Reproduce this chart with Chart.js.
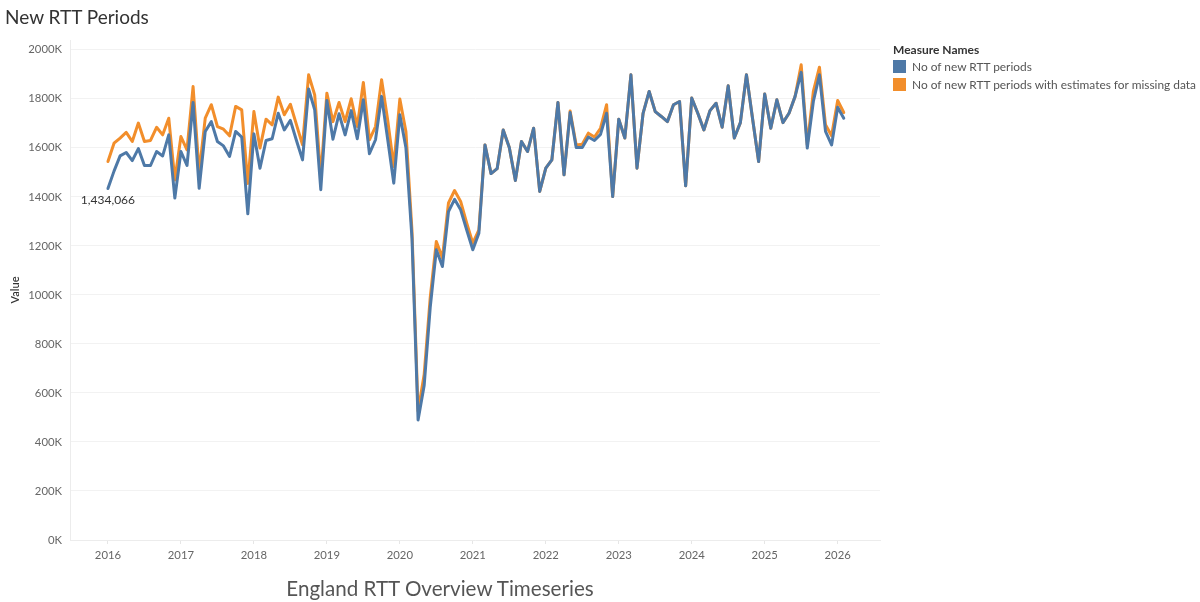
<!DOCTYPE html>
<html>
<head>
<meta charset="utf-8">
<script src="https://cdn.jsdelivr.net/npm/chart.js@4.4.0/dist/chart.umd.min.js"></script>
<style>
html,body{margin:0;padding:0;background:#fff;}
#wrap{position:relative;width:1200px;height:602px;font-family:Lato,"Open Sans",sans-serif;overflow:hidden;}
#c{position:absolute;left:0;top:0;}
.title{position:absolute;left:5px;top:5px;font-size:19px;color:#333;white-space:nowrap;}
.sub{position:absolute;left:0;width:880px;text-align:center;top:576px;font-size:20.6px;color:#555;white-space:nowrap;}
.legend{position:absolute;left:893px;top:42px;font-size:11.9px;color:#555;white-space:nowrap;}
.legend .lt{font-weight:700;color:#333;font-size:12px;margin-bottom:2px;}
.legend .row{position:relative;height:18px;line-height:15px;padding-left:19px;}
.legend .sw{position:absolute;left:0;top:1px;width:13px;height:13px;}
</style>
</head>
<body>
<div id="wrap">
<canvas id="c" width="1200" height="602"></canvas>
<div class="title">New RTT Periods</div>
<div class="sub">England RTT Overview Timeseries</div>
<div class="legend" id="legend"></div>
</div>
<script>
// ---- data (values in thousands) ----
const startYear = 2016;
const seriesNames = ['No of new RTT periods', 'No of new RTT periods with estimates for missing data'];
const seriesColors = ['#4e79a7', '#f28e2b'];

const newRttPeriods = [
1434.066,1505,1567,1581,1548,1597,1528,1528,1585,1567,1653,1395,
1585,1528,1785,1435,1667,1707,1626,1608,1565,1667,1644,1331,
1657,1517,1630,1637,1741,1673,1712,1630,1551,1840,1755,1429,
1793,1635,1739,1653,1752,1637,1796,1576,1633,1810,1635,1456,
1735,1600,1230,490,630,950,1184,1116,1340,1390,1347,1265,
1184,1252,1612,1495,1515,1673,1601,1467,1626,1585,1680,1422,
1517,1551,1785,1490,1744,1601,1601,1644,1630,1655,1741,1401,
1717,1640,1898,1517,1741,1830,1748,1728,1707,1776,1789,1445,
1803,1741,1673,1752,1782,1684,1853,1640,1703,1898,1720,1544,
1820,1680,1796,1703,1741,1810,1908,1599,1789,1898,1667,1612,
1766,1721];

const newRttPeriodsEst = [
1544,1619,1640,1663,1626,1701,1626,1630,1684,1653,1721,1469,
1646,1592,1850,1500,1721,1776,1687,1676,1649,1769,1755,1455,
1748,1599,1717,1694,1807,1735,1778,1695,1612,1898,1816,1480,
1823,1707,1785,1707,1800,1687,1867,1633,1687,1878,1714,1524,
1799,1667,1260,525,675,990,1218,1151,1375,1426,1381,1293,
1211,1265,1612,1495,1515,1673,1601,1467,1626,1585,1680,1422,
1517,1551,1785,1490,1750,1612,1615,1660,1644,1680,1776,1401,
1717,1640,1898,1517,1741,1830,1748,1728,1707,1776,1789,1445,
1803,1741,1673,1752,1782,1684,1853,1640,1703,1898,1720,1544,
1820,1680,1796,1703,1741,1810,1939,1612,1830,1929,1694,1649,
1793,1744];

const yearTicks = [2016,2017,2018,2019,2020,2021,2022,2023,2024,2025,2026];
const valueTicks = [0,200,400,600,800,1000,1200,1400,1600,1800,2000];

// month categories (Jan 2016 onward) -> position in fractional years
const months = newRttPeriods.map((_, i) => (startYear + Math.floor(i / 12)) + '-' + String(i % 12 + 1).padStart(2, '0'));
const monthPos = m => { const [y, mo] = m.split('-').map(Number); return y + (mo - 1) / 12; };
const toPoints = arr => arr.map((v, i) => ({ x: monthPos(months[i]), y: v }));

// legend
const lg = document.getElementById('legend');
lg.innerHTML = '<div class="lt">Measure Names</div>' + seriesNames.map((n, i) =>
  '<div class="row"><span class="sw" style="background:' + seriesColors[i] + '"></span>' + n + '</div>').join('');

const firstLabel = {
  id: 'firstLabel',
  afterDatasetsDraw(chart) {
    const meta = chart.getDatasetMeta(0);
    const pt = meta.data[0];
    const ctx = chart.ctx;
    ctx.save();
    ctx.font = '12px Lato, "Open Sans", sans-serif';
    ctx.fillStyle = '#333';
    ctx.textAlign = 'center';
    ctx.textBaseline = 'middle';
    ctx.fillText(Math.round(newRttPeriods[0] * 1000).toLocaleString('en-GB'), pt.x, pt.y + 12);
    ctx.restore();
  }
};

const tickFont = { family: 'Lato, "Open Sans", sans-serif', size: 11.3 };

new Chart(document.getElementById('c'), {
  type: 'line',
  data: {
    datasets: [
      { label: seriesNames[0], data: toPoints(newRttPeriods), borderColor: seriesColors[0], backgroundColor: seriesColors[0],
        borderWidth: 3, pointRadius: 0, tension: 0, borderJoinStyle: 'round', borderCapStyle: 'round' },
      { label: seriesNames[1], data: toPoints(newRttPeriodsEst), borderColor: seriesColors[1], backgroundColor: seriesColors[1],
        borderWidth: 3, pointRadius: 0, tension: 0, borderJoinStyle: 'round', borderCapStyle: 'round' }
    ]
  },
  options: {
    responsive: false,
    animation: false,
    devicePixelRatio: 1,
    layout: { padding: { left: 0, right: 320, top: 40, bottom: 0 } },
    plugins: { legend: { display: false }, tooltip: { enabled: false }, title: { display: false } },
    scales: {
      x: {
        type: 'linear', min: 2015.48, max: 2026.58,
        afterBuildTicks: s => { s.ticks = yearTicks.map(v => ({ value: v })); },
        afterFit: s => { s.height = 62; },
        ticks: { callback: v => String(v), color: '#666', font: tickFont, padding: 5, maxRotation: 0, autoSkip: false },
        grid: { drawOnChartArea: false, drawTicks: true, tickLength: 4, color: '#e6e6e6' },
        border: { display: true, color: '#ececec' }
      },
      y: {
        min: 0, max: 2040,
        afterBuildTicks: s => { s.ticks = valueTicks.map(v => ({ value: v })); },
        afterFit: s => { s.width = 70; },
        ticks: { callback: v => v + 'K', color: '#666', font: tickFont, padding: 8 },
        grid: { color: '#f2f2f2', drawTicks: false },
        border: { display: true, color: '#ececec' },
        title: { display: true, text: 'Value', color: '#333', font: { family: 'Lato, "Open Sans", sans-serif', size: 11, weight: '600' }, padding: { top: 9, bottom: 0 } }
      }
    }
  },
  plugins: [firstLabel]
});
</script>
</body>
</html>
